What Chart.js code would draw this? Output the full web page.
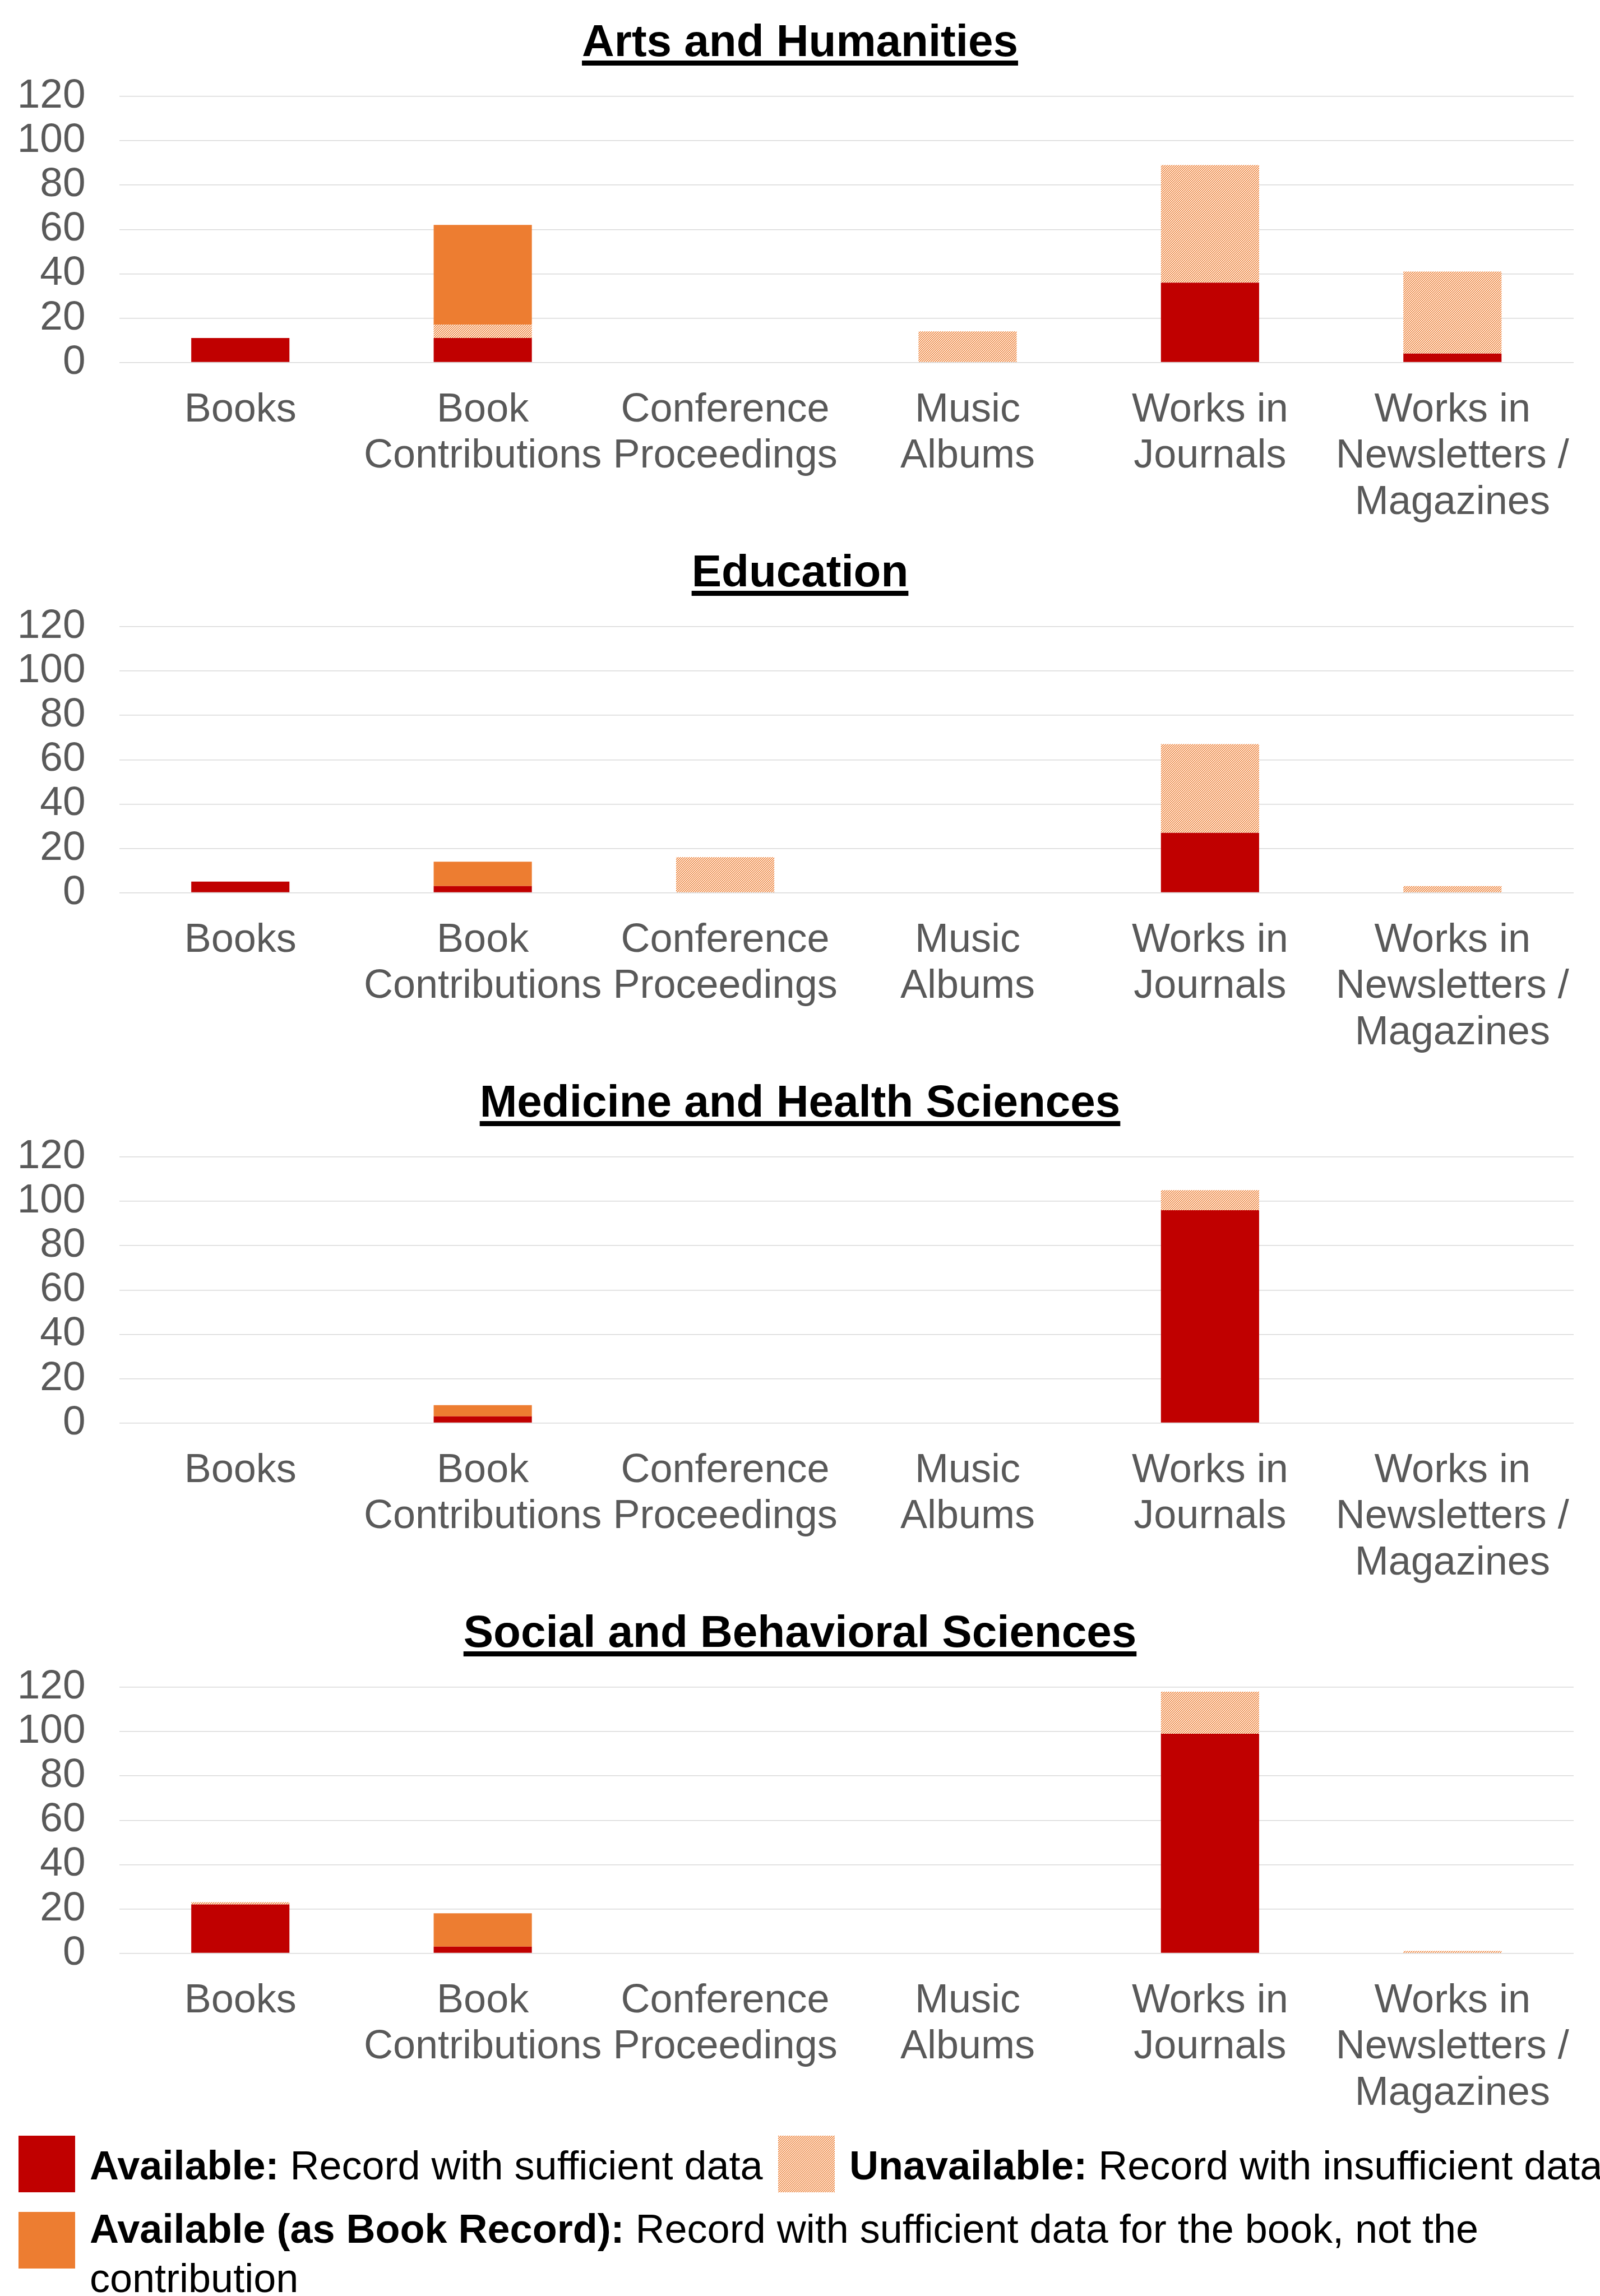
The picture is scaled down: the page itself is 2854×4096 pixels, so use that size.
<!DOCTYPE html>
<html>
<head>
<meta charset="utf-8">
<script src="https://cdn.jsdelivr.net/npm/chart.js@4.4.0/dist/chart.umd.min.js"></script>
<style>
    html, body { margin: 0; padding: 0; background: #fff; }
    body { width: 2854px; height: 4096px; position: relative; overflow: hidden; font-family: "Liberation Sans", Arial, sans-serif; }
    .panel { position: absolute; left: 0; }
    .title { position: absolute; left: 0; width: 2854px; text-align: center; font-weight: bold; font-size: 80px; line-height: 80px; color: #000; }
    .title span { text-decoration: underline; text-decoration-thickness: 9px; text-underline-offset: 8px; }
    .swatch { position: absolute; width: 101px; height: 101px; }
    .legtext { position: absolute; font-size: 72px; line-height: 88px; color: #000; white-space: nowrap; }
</style>
</head>
<body>
<div id="charts"></div>

<div class="swatch" style="left:33px; top:3810px; background:#C00000;"></div>
<div class="legtext" style="left:160px; top:3819px;"><b>Available:</b> Record with sufficient data</div>
<canvas class="swatch" id="hatchSwatch" width="102" height="101" style="left:1388px; top:3810px;"></canvas>
<div class="legtext" style="left:1515px; top:3819px;"><b>Unavailable:</b> Record with insufficient data</div>
<div class="swatch" style="left:33px; top:3946px; background:#ED7D31;"></div>
<div class="legtext" style="left:160px; top:3932px; width:2694px; white-space:normal;"><b>Available (as Book Record):</b> Record with sufficient data for the book, not the contribution</div>

<script>
// categories (x axis)
const categories = ['Books', ['Book', 'Contributions'], ['Conference', 'Proceedings'], ['Music', 'Albums'], ['Works in', 'Journals'], ['Works in', 'Newsletters /', 'Magazines']];
const panelTitles = ['Arts and Humanities', 'Education', 'Medicine and Health Sciences', 'Social and Behavioral Sciences'];
const yTicks = [0, 20, 40, 60, 80, 100, 120];

// Arts and Humanities
const artsAvailable = [11, 11, 0, 0, 36, 4];
const artsUnavailable = [0, 6, 0, 14, 53, 37];
const artsAsBook = [0, 45, 0, 0, 0, 0];
// Education
const eduAvailable = [5, 3, 0, 0, 27, 0];
const eduUnavailable = [0, 0, 16, 0, 40, 3];
const eduAsBook = [0, 11, 0, 0, 0, 0];
// Medicine and Health Sciences
const medAvailable = [0, 3, 0, 0, 96, 0];
const medUnavailable = [0, 0, 0, 0, 9, 0];
const medAsBook = [0, 5, 0, 0, 0, 0];
// Social and Behavioral Sciences
const socAvailable = [22, 3, 0, 0, 99, 0];
const socUnavailable = [1, 0, 0, 0, 19, 1];
const socAsBook = [0, 15, 0, 0, 0, 0];

const panelData = [
    [artsAvailable, artsUnavailable, artsAsBook],
    [eduAvailable, eduUnavailable, eduAsBook],
    [medAvailable, medUnavailable, medAsBook],
    [socAvailable, socUnavailable, socAsBook]
];

const RED = '#C00000';
const ORANGE = '#ED7D31';

function makeHatch(ctx) {
    var tile = document.createElement('canvas');
    tile.width = 4;
    tile.height = 4;
    var t = tile.getContext('2d');
    t.fillStyle = '#ffffff';
    t.fillRect(0, 0, 4, 4);
    t.fillStyle = ORANGE;
    for (var x = 0; x < 4; x++) {
        for (var y = 0; y < 4; y++) {
            if ((x + y) % 4 < 2) t.fillRect(x, y, 1, 1);
        }
    }
    return ctx.createPattern(tile, 'repeat');
}

// legend swatch
var sw = document.getElementById('hatchSwatch').getContext('2d');
sw.fillStyle = makeHatch(sw);
sw.fillRect(0, 0, 102, 101);

const PANEL_H = 946;
const PLOT_TOP = 172;
const PLOT_BOTTOM = 646.5;
const holder = document.getElementById('charts');

panelData.forEach(function(d, i) {
    var top = i * PANEL_H;

    var title = document.createElement('div');
    title.className = 'title';
    title.style.top = (top + 33) + 'px';
    title.innerHTML = '<span>' + panelTitles[i] + '</span>';
    holder.appendChild(title);

    var cv = document.createElement('canvas');
    cv.className = 'panel';
    cv.width = 2854;
    cv.height = PANEL_H;
    cv.style.top = top + 'px';
    holder.appendChild(cv);
    var ctx = cv.getContext('2d');

    new Chart(ctx, {
        type: 'bar',
        data: {
            labels: categories,
            datasets: [{
                    label: 'Available',
                    data: d[0],
                    backgroundColor: RED,
                    borderWidth: 0
                },
                {
                    label: 'Unavailable',
                    data: d[1],
                    backgroundColor: makeHatch(ctx),
                    borderWidth: 0
                },
                {
                    label: 'Available (as Book Record)',
                    data: d[2],
                    backgroundColor: ORANGE,
                    borderWidth: 0
                }
            ]
        },
        options: {
            responsive: false,
            animation: false,
            devicePixelRatio: 1,
            barPercentage: 0.405,
            categoryPercentage: 1.0,
            layout: {
                padding: { top: PLOT_TOP, right: 47, left: 0, bottom: 0 }
            },
            plugins: {
                legend: { display: false },
                tooltip: { enabled: false }
            },
            scales: {
                x: {
                    stacked: true,
                    grid: { display: false, drawTicks: false },
                    border: { display: false },
                    ticks: {
                        autoSkip: false,
                        maxRotation: 0,
                        padding: 44,
                        color: '#595959',
                        font: { family: '"Liberation Sans", Arial, sans-serif', size: 72, lineHeight: 1.147 }
                    },
                    afterFit: function(scale) { scale.height = PANEL_H - PLOT_BOTTOM; }
                },
                y: {
                    stacked: true,
                    min: 0,
                    max: 120,
                    afterBuildTicks: function(scale) {
                        scale.ticks = yTicks.map(v => ({ value: v }));
                    },
                    grid: { color: '#D9D9D9', lineWidth: 1.5, drawTicks: false },
                    border: { display: false },
                    ticks: {
                        autoSkip: false,
                        padding: 60,
                        color: '#595959',
                        font: { family: '"Liberation Sans", Arial, sans-serif', size: 73 }
                    },
                    afterFit: function(scale) { scale.width = 212.5; }
                }
            }
        }
    });
});
</script>
</body>
</html>
